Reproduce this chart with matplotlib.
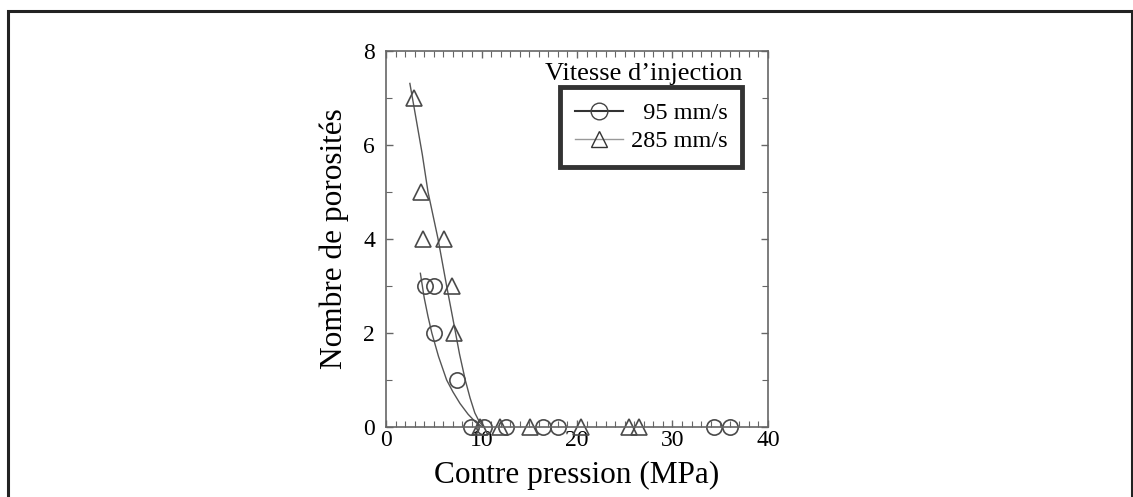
import matplotlib
matplotlib.use("Agg")
import matplotlib.pyplot as plt
from matplotlib.patches import Rectangle
from matplotlib.lines import Line2D
from matplotlib.ticker import MultipleLocator

plt.rcParams['font.family'] = ['Liberation Serif', 'DejaVu Serif']

# points mesures, 95 mm/s (cercles)
p95 = [4.1, 5.0, 5.0, 7.4, 8.9, 10.3, 12.6, 16.4, 18.0, 34.3, 36.0]
n95 = [3, 3, 2, 1, 0, 0, 0, 0, 0, 0, 0]
# points mesures, 285 mm/s (triangles)
p285 = [2.9, 3.7, 3.9, 6.1, 6.9, 7.1, 9.85, 11.9, 15.1, 20.4, 25.4, 26.5]
n285 = [7, 5, 4, 4, 3, 2, 0, 0, 0, 0, 0, 0]

# courbes de tendance
c95_x = [3.6, 4.0, 4.4, 4.8, 5.5, 6.35, 7.0, 7.75, 8.6, 9.4, 10.1]
c95_y = [3.27, 2.75, 2.35, 2.0, 1.5, 1.0, 0.75, 0.5, 0.27, 0.1, 0.0]
c285_x = [2.5, 3.2, 3.8, 4.4, 5.45, 6.35, 7.1, 7.7, 8.3, 8.8, 9.3, 9.8, 10.3]
c285_y = [7.31, 6.5, 5.8, 5.0, 4.0, 3.0, 2.2, 1.55, 1.0, 0.62, 0.3, 0.1, 0.0]

grey = '#4a4a4a'

fig = plt.figure(figsize=(11.33, 4.97), dpi=100)

# cadre exterieur
fig.patches.append(Rectangle((8 / 1133, -0.05), 1124 / 1133, 1.05 - 11 / 497,
                             transform=fig.transFigure, fill=False,
                             edgecolor='#222222', linewidth=2.2))

ax = fig.add_axes([386 / 1133, 1 - 427 / 497, 382 / 1133, 376 / 497])

ax.plot(c95_x, c95_y, color='#555555', lw=1.0)
ax.plot(c285_x, c285_y, color='#555555', lw=1.0)
ax.plot(p95, n95, 'o', ms=11, mfc='none', mec=grey, mew=1.2, clip_on=False)
ax.plot(p285, n285, '^', ms=11, mfc='none', mec=grey, mew=1.2, clip_on=False)

ax.set_xlim(0, 40)
ax.set_ylim(0, 8)
ax.xaxis.set_major_locator(MultipleLocator(10))
ax.xaxis.set_minor_locator(MultipleLocator(1))
ax.yaxis.set_major_locator(MultipleLocator(2))
ax.yaxis.set_minor_locator(MultipleLocator(1))
ax.tick_params(which='both', direction='in', top=True, right=True,
               color='#666666', labelsize=17)
ax.tick_params(which='major', length=5, width=1)
ax.tick_params(which='minor', length=4, width=0.8)
ax.tick_params(axis='x', pad=2)
ax.tick_params(axis='y', pad=8)
for s in ax.spines.values():
    s.set_color('#666666')
    s.set_linewidth(1.2)

ax.set_xlabel('Contre pression (MPa)', fontsize=22.5, labelpad=7)
ax.set_ylabel('Nombre de porosités', fontsize=22.5, labelpad=10)

# legende : titre au-dessus du cadre epais
ax.text(0.932, 0.94, 'Vitesse d\u2019injection', transform=ax.transAxes,
        ha='right', va='center', fontsize=19)
handles = [Line2D([], [], color='#333333', lw=1.5, marker='o', ms=12,
                  mfc='none', mec='#444444'),
           Line2D([], [], color='#999999', lw=1.0, marker='^', ms=12,
                  mfc='none', mec='#333333')]
leg = ax.legend(handles, ['  95 mm/s', '285 mm/s'], loc='upper right',
                bbox_to_anchor=(0.932, 0.903), fontsize=17.5, frameon=True,
                fancybox=False, handlelength=2.0, handletextpad=0.3,
                borderpad=0.6, labelspacing=0.25, borderaxespad=0)
leg.get_frame().set_edgecolor('black')
leg.get_frame().set_linewidth(3.5)

fig.savefig('out.png', dpi=100)
